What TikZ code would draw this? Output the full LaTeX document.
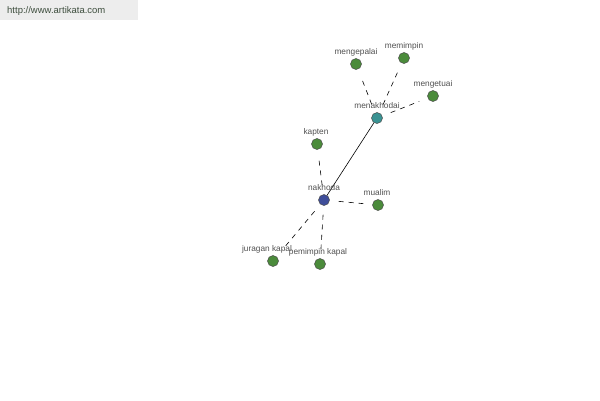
\documentclass[tikz,border=0pt]{standalone}
\usepackage{fontspec}
\setmainfont{Liberation Sans}
\definecolor{leaf}{HTML}{4B8B3B}
\definecolor{hub}{HTML}{3F4E9A}
\definecolor{sub}{HTML}{3A9393}
\definecolor{lbl}{HTML}{505050}
\definecolor{urlc}{HTML}{3E4E3E}
\begin{document}
\begin{tikzpicture}[x=1pt,y=-1pt,
  dot/.style={circle,draw=black!70,line width=0.5pt,minimum size=11pt,inner sep=0pt},
  leafdot/.style={dot,fill=leaf},
  lab/.style={font=\fontsize{8.3}{9}\selectfont,text=lbl,inner sep=0pt},
  dashlink/.style={dashed,dash pattern=on 5pt off 5pt,line width=0.6pt,shorten <=9pt,shorten >=9pt},
  solidline/.style={line width=0.6pt}]
\useasboundingbox (0,0) rectangle (600,400);
\fill[black!7] (0,0) rectangle (138,20);
\node[anchor=west,font=\fontsize{9.5}{11}\selectfont,text=urlc,inner sep=0pt] (url) at (7,11) {http://www.artikata.com};
\node[dot,fill=hub] (nakhoda) at (324,200) {};
\node[dot,fill=sub] (menakhodai) at (377,118) {};
\node[leafdot] (mengepalai) at (356,64) {};
\node[leafdot] (memimpin) at (404,58) {};
\node[leafdot] (mengetuai) at (433,96) {};
\node[leafdot] (kapten) at (317,144) {};
\node[leafdot] (mualim) at (378,205) {};
\node[leafdot] (juragan) at (273,261) {};
\node[leafdot] (pemimpin) at (320,264) {};
\draw[solidline] (nakhoda) -- (menakhodai);
\draw[dashlink] (menakhodai) -- (mengepalai);
\draw[dashlink] (menakhodai) -- (memimpin);
\draw[dashlink] (menakhodai) -- (mengetuai);
\draw[dashlink] (nakhoda) -- (kapten);
\draw[dashlink] (nakhoda) -- (mualim);
\draw[dashlink] (nakhoda) -- (juragan);
\draw[dashlink] (nakhoda) -- (pemimpin);
\node[lab] (l1) at (324,188) {nakhoda};
\node[lab] (l2) at (377,106) {menakhodai};
\node[lab] (l3) at (356,52) {mengepalai};
\node[lab] (l4) at (404,46) {memimpin};
\node[lab] (l5) at (433,84) {mengetuai};
\node[lab] (l6) at (316,132) {kapten};
\node[lab] (l7) at (377,193) {mualim};
\node[lab] (l8) at (267,249) {juragan kapal};
\node[lab] (l9) at (318,252) {pemimpin kapal};
\end{tikzpicture}
\end{document}
